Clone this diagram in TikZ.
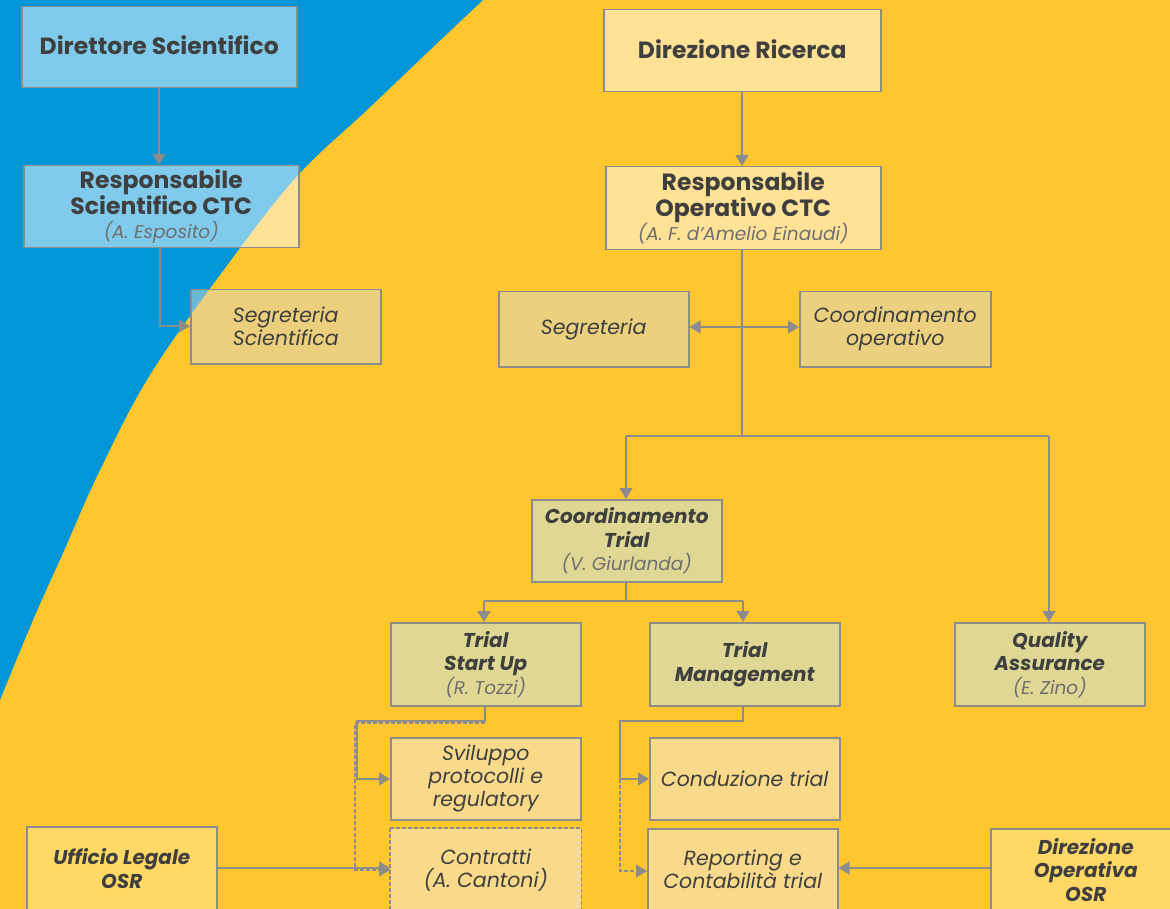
\documentclass[tikz,border=0pt]{standalone}
\usepackage{fontspec}
\setmainfont{Poppins}
\usetikzlibrary{arrows.meta}
\definecolor{bgblue}{HTML}{0096D7}
\definecolor{bgyellow}{HTML}{FFC62E}
\definecolor{linegray}{HTML}{8C8C8C}
\definecolor{txt}{HTML}{3F3F3F}
\definecolor{namegray}{HTML}{6E6E6E}
\definecolor{tanfill}{HTML}{EBD080}
\definecolor{olivefill}{HTML}{DFD895}
\definecolor{lightfill}{HTML}{F8DA8A}
\definecolor{osrfill}{HTML}{FFD866}
\definecolor{tanveil}{HTML}{D8D8CC}
\tikzset{
  box/.style={draw=linegray, line width=1.5pt, inner sep=0pt, align=center, text=txt, anchor=north west},
  topbox/.style={box, fill=white, fill opacity=0.5, text opacity=1, font=\fontsize{23.5}{25}\selectfont\bfseries},
  secbox/.style={box, fill=tanfill, font=\fontsize{20.5}{23}\selectfont\itshape, text=txt},
  trialbox/.style={box, fill=olivefill, font=\fontsize{20}{23.5}\selectfont\bfseries\itshape},
  taskbox/.style={box, fill=lightfill, font=\fontsize{20.5}{23}\selectfont\itshape},
  osrbox/.style={box, fill=osrfill, font=\fontsize{20}{23.5}\selectfont\bfseries\itshape},
  conn/.style={draw=linegray, line width=1.6pt, -{Triangle[length=11pt,width=13pt]}},
  plain/.style={draw=linegray, line width=1.6pt},
  dconn/.style={conn, dashed, dash pattern=on 4pt off 2pt},
}
\newcommand{\nm}[1]{{\fontsize{18.5}{22}\selectfont\mdseries\itshape\color{namegray}#1}}
\begin{document}
\begin{tikzpicture}[x=1pt,y=-1pt]
\useasboundingbox (0,0) rectangle (1170,909);
\fill[bgyellow] (0,0) rectangle (1170,909);
\fill[bgblue] (0,0) -- plot[smooth, tension=0.6] coordinates {(483,0) (430,50) (367,110) (300,173) (240,248) (153,370) (100,470) (63,553) (33,620) (0,700)} -- cycle;

% top-left
\node[topbox, minimum width=275pt, minimum height=81pt] (ds) at (21,6) {\raisebox{4pt}{Direttore Scientifico}};
\node[topbox, minimum width=275pt, minimum height=82pt] (rs) at (23,165) {Responsabile\\Scientifico CTC\\[-1pt]\nm{(A. Esposito)}};
\node[secbox, fill=tanveil, fill opacity=0.5, text opacity=1, minimum width=190pt, minimum height=74pt] (ss) at (190,289) {Segreteria\\Scientifica};

% top-right
\node[topbox, minimum width=277pt, minimum height=82pt] (dr) at (603,9) {\raisebox{4pt}{Direzione Ricerca}};
\node[topbox, minimum width=275pt, minimum height=83pt] (ro) at (605,166) {Responsabile\\Operativo CTC\\[-1pt]\nm{(A. F. d'Amelio Einaudi)}};
\node[secbox, minimum width=190pt, minimum height=75pt] (sg) at (498,291) {Segreteria};
\node[secbox, minimum width=191pt, minimum height=75pt] (co) at (799,291) {Coordinamento\\operativo};

% trial level
\node[trialbox, minimum width=190pt, minimum height=82pt] (ct) at (531,499) {Coordinamento\\Trial\\\nm{(V. Giurlanda)}};
\node[trialbox, minimum width=190pt, minimum height=83pt] (su) at (390,622) {Trial\\Start Up\\\nm{(R. Tozzi)}};
\node[trialbox, minimum width=190pt, minimum height=83pt] (tm) at (649,622) {Trial\\Management};
\node[trialbox, minimum width=190pt, minimum height=83pt] (qa) at (954,622) {Quality\\Assurance\\\nm{(E. Zino)}};

% tasks
\node[taskbox, minimum width=190pt, minimum height=82pt] (sv) at (390,737) {Sviluppo\\protocolli e\\regulatory};
\node[taskbox, minimum width=190pt, minimum height=82pt] (cd) at (649,737) {Conduzione trial};
\node[taskbox, draw=none, minimum width=190pt, minimum height=82pt] (cn) at (390,828) {Contratti\\(A. Cantoni)};
\draw[linegray, line width=1.3pt, dash pattern=on 4pt off 2pt] (cn.north west) rectangle (cn.south east);
\node[taskbox, minimum width=190pt, minimum height=82pt] (rp) at (647,828) {Reporting e\\Contabilità trial};

% OSR
\node[osrbox, minimum width=190pt, minimum height=84pt] (ul) at (26,826) {Ufficio Legale\\OSR};
\node[osrbox, minimum width=190pt, minimum height=82pt] (do) at (990,828) {Direzione\\Operativa\\OSR};

% connectors
\draw[conn] (ds.south -| 159,0) -- (rs.north -| 159,0);
\coordinate (rsd) at (160,326);
\draw[conn] (rs.south -| rsd) |- (ss.west |- rsd);
\draw[conn] (dr.south -| 742,0) -- (ro.north -| 742,0);
\coordinate (hub) at (742,436);
\draw[plain] (ro.south -| hub) -- (hub);
\draw[conn, {Triangle[length=11pt,width=13pt]}-{Triangle[length=11pt,width=13pt]}] (sg.east |- 0,327) -- (co.west |- 0,327);
\coordinate (hl) at (626,436);
\coordinate (hr) at (1049,436);
\draw[plain] (hl) -- (hr);
\draw[conn] (hl) -- (ct.north -| hl);
\draw[conn] (hr) -- (qa.north -| hr);
\coordinate (cth) at (626,601);
\coordinate (thl) at (484,601);
\coordinate (thr) at (743,601);
\draw[plain] (ct.south -| cth) -- (cth);
\draw[plain] (thl) -- (thr);
\draw[conn] (thl) -- (su.north -| thl);
\draw[conn] (thr) -- (tm.north -| thr);

% start up to tasks
\coordinate (s1) at (485,721);
\coordinate (s2) at (357,721);
\coordinate (s3) at (357,779);
\coordinate (s4) at (355,723);
\coordinate (s5) at (355,870);
\draw[conn] (su.south -| s1) -- (s1) -- (s2) -- (s3) -- (sv.west |- s3);
\draw[dconn] (s4 -| s1) -- (s4) -- (s5) -- (cn.west |- s5);
\draw[conn] (ul.east |- 0,868) -- (cn.west |- 0,868);

% management to tasks
\coordinate (m1) at (743,721);
\coordinate (m2) at (620,721);
\coordinate (m3) at (620,779);
\coordinate (m5) at (620,871);
\draw[conn] (tm.south -| m1) -- (m1) -- (m2) -- (m3) -- (cd.west |- m3);
\draw[dconn] (m3) -- (m5) -- (rp.west |- m5);
\draw[conn] (do.west |- 0,868) -- (rp.east |- 0,868);
\end{tikzpicture}
\end{document}
